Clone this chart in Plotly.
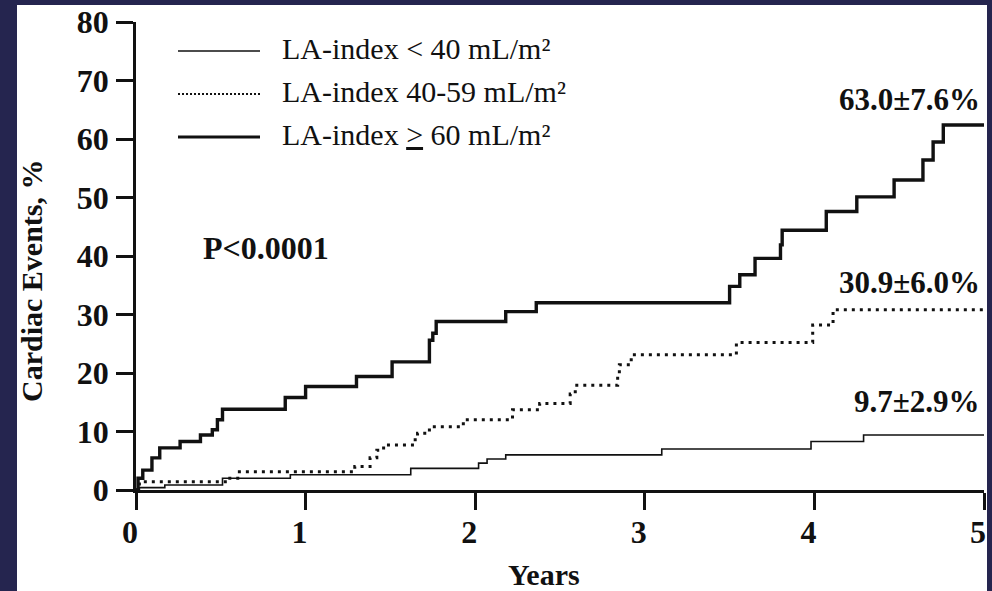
import plotly.graph_objects as go

# ---------------- data ----------------
x_ticks = [0, 1, 2, 3, 4, 5]
y_ticks = [0, 10, 20, 30, 40, 50, 60, 70, 80]

series_names = ["LA-index < 40 mL/m²", "LA-index 40-59 mL/m²", "LA-index ≥ 60 mL/m²"]
legend_labels = ["LA-index &lt; 40 mL/m²", "LA-index 40-59 mL/m²", "LA-index <u>&gt;</u> 60 mL/m²"]

low_t = [0, 0.02, 0.17, 0.51, 0.91, 1.62, 2.02, 2.07, 2.18, 3.10, 3.98, 4.29, 5.0]
low_v = [0, 0.4, 0.85, 2.0, 2.6, 3.7, 4.6, 5.3, 6.0, 7.0, 8.3, 9.4, 9.4]

mid_t = [0, 0.02, 0.54, 0.60, 1.29, 1.38, 1.42, 1.46, 1.63, 1.66, 1.73, 1.93, 2.22,
         2.38, 2.56, 2.59, 2.84, 2.85, 2.92, 3.54, 3.99, 4.11, 5.0]
mid_v = [0, 1.4, 2.0, 3.1, 4.0, 5.5, 6.8, 7.7, 8.6, 9.7, 10.8, 12.0, 13.7,
         14.8, 16.4, 17.9, 19.7, 21.4, 23.1, 25.2, 28.2, 30.8, 30.8]

high_t = [0, 0.012, 0.04, 0.094, 0.14, 0.26, 0.38, 0.45, 0.48, 0.51, 0.88, 1.0, 1.30,
          1.51, 1.73, 1.75, 1.77, 2.18, 2.36, 3.50, 3.56, 3.65, 3.80, 3.81, 4.07,
          4.25, 4.47, 4.64, 4.70, 4.76, 5.0]
high_v = [0, 2.0, 3.4, 5.5, 7.2, 8.3, 9.4, 10.3, 12.0, 13.8, 15.8, 17.7, 19.4,
          21.9, 25.6, 26.8, 28.8, 30.5, 32.0, 34.8, 36.8, 39.6, 41.9, 44.4, 47.6,
          50.1, 53.0, 56.4, 59.5, 62.4, 62.4]

end_labels = ["9.7±2.9%", "30.9±6.0%", "63.0±7.6%"]
end_label_y = [15.1, 35.4, 66.7]
p_text = "P<0.0001"

# ---------------- layout helpers ----------------
W, H = 992, 591
L, R, T, B = 136, 8, 22, 101
PW, PH = W - L - R, H - T - B


def px(xp):
    return (xp - L) / PW


def py(yp):
    return (H - B - yp) / PH


SERIF = "Liberation Serif"
NAVY = "#25254f"
INK = "#111111"

fig = go.Figure()

styles = [
    dict(color=INK, width=1.6, dash="solid"),
    dict(color=INK, width=3, dash="3px,5px"),
    dict(color=INK, width=3.4, dash="solid"),
]
for name, tt, vv, st in zip(series_names, [low_t, mid_t, high_t], [low_v, mid_v, high_v], styles):
    fig.add_trace(go.Scatter(x=tt, y=vv, mode="lines", name=name,
                             line=dict(shape="hv", **st), showlegend=False))

shapes = [
    dict(type="rect", xref="paper", yref="paper", x0=px(17), x1=px(987), y0=py(H + 5), y1=py(5),
         fillcolor="white", line=dict(width=0), layer="below"),
]
leg_y = [51, 94, 137]
leg_styles = [dict(width=1.5, dash="solid"), dict(width=2, dash="2px,2px"), dict(width=3, dash="solid")]
for yy, ls in zip(leg_y, leg_styles):
    shapes.append(dict(type="line", xref="paper", yref="paper", x0=px(178), x1=px(260),
                       y0=py(yy), y1=py(yy), line=dict(color=INK, **ls)))

annotations = []
for yy, lab in zip(leg_y, legend_labels):
    annotations.append(dict(xref="paper", yref="paper", x=px(280), y=py(yy - 3), text=lab,
                            showarrow=False, xanchor="left", yanchor="middle",
                            font=dict(family=SERIF, size=30, color=INK)))
for lab, ly in zip(end_labels, end_label_y):
    annotations.append(dict(xref="paper", yref="y", x=px(982), y=ly, text=lab, showarrow=False,
                            xanchor="right", yanchor="middle",
                            font=dict(family=SERIF, size=31, color=INK, weight="bold")))
annotations.append(dict(xref="paper", yref="paper", x=px(266), y=py(248), text=p_text, showarrow=False,
                        xanchor="center", yanchor="middle",
                        font=dict(family=SERIF, size=32, color=INK, weight="bold")))
annotations.append(dict(xref="paper", yref="paper", x=px(31), y=py(281), text="Cardiac Events, %",
                        textangle=-90, showarrow=False, xanchor="center", yanchor="middle",
                        font=dict(family=SERIF, size=30, color=INK, weight="bold")))
annotations.append(dict(xref="paper", yref="paper", x=px(544), y=py(574), text="Years",
                        showarrow=False, xanchor="center", yanchor="middle",
                        font=dict(family=SERIF, size=30, color=INK, weight="bold")))

fig.update_layout(
    width=W, height=H,
    margin=dict(l=L, r=R, t=T, b=B, autoexpand=False),
    paper_bgcolor=NAVY, plot_bgcolor="white",
    shapes=shapes, annotations=annotations,
    xaxis=dict(range=[0, 5], tickvals=x_ticks, ticktext=[str(v) for v in x_ticks],
               automargin=False,
               showline=True, linecolor=INK, linewidth=2.5, ticks="outside",
               ticklen=17, tickwidth=2.5, tickcolor=INK, showgrid=False, zeroline=False,
               ticklabelstandoff=-5, ticklabelshift=-6,
               tickfont=dict(family=SERIF, size=32, color=INK, weight="bold")),
    yaxis=dict(range=[0, 80], tickvals=y_ticks, ticktext=[str(v) for v in y_ticks],
               automargin=False,
               showline=True, linecolor=INK, linewidth=2.5, ticks="outside",
               ticklen=17, tickwidth=2.5, tickcolor=INK, showgrid=False, zeroline=False,
               ticklabelstandoff=1,
               tickfont=dict(family=SERIF, size=32, color=INK, weight="bold")),
)

fig.write_html(
    "out.html",
    config={"displayModeBar": False},
    post_script="document.body.style.margin='0';document.body.style.background='" + NAVY + "';",
)
